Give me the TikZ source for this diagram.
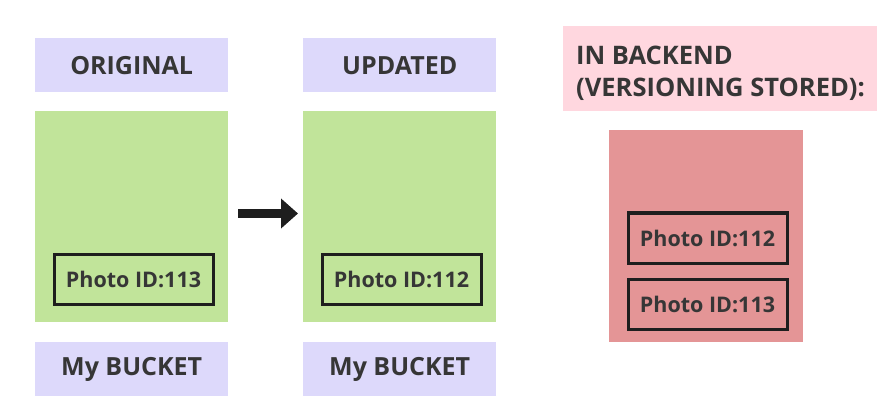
\documentclass[tikz,border=0pt]{standalone}
\usepackage{fontspec}
\setmainfont{Open Sans}
\usetikzlibrary{arrows.meta}
\definecolor{lav}{HTML}{DDD9FB}
\definecolor{grn}{HTML}{C1E49A}
\definecolor{pnk}{HTML}{FFD7DF}
\definecolor{redb}{HTML}{E49596}
\definecolor{txt}{HTML}{363636}
\definecolor{edge}{HTML}{1E1E1E}
\tikzset{
  lbl/.style={fill=lav, draw=none, minimum width=193pt, minimum height=54pt, inner sep=0pt, anchor=north west,
    text=txt, font=\fontsize{25}{28}\selectfont\bfseries},
  bucket/.style={fill=grn, draw=none, minimum width=193pt, minimum height=211pt, inner sep=0pt, anchor=north west},
  vault/.style={fill=redb, draw=none, minimum width=194pt, minimum height=212pt, inner sep=0pt, anchor=north west},
  photo/.style={draw=edge, line width=3pt, minimum width=159pt, minimum height=50pt, inner sep=0pt, anchor=north west,
    text=txt, font=\fontsize{21.5}{24}\selectfont\bfseries},
  pinkbox/.style={fill=pnk, draw=none, minimum width=314pt, minimum height=85pt, inner sep=0pt, anchor=north west},
  bigarrow/.style={draw=edge, line width=9pt, -{Triangle[length=17pt,width=29pt]}}
}
\begin{document}
\begin{tikzpicture}[x=1pt,y=-1pt]
\useasboundingbox (0,0) rectangle (883,406);
% left column
\node[lbl] (orig) at (35,38) {ORIGINAL};
\node[bucket] (g1) at (35,111) {};
\node[photo, fill=grn] (p1) at (52.5,252.5) {Photo ID:113};
\node[lbl] (mb1) at (35,342) {My BUCKET};
% middle column
\node[lbl] (upd) at (303,38) {UPDATED};
\node[bucket] (g2) at (303,111) {};
\node[photo, fill=grn] (p2) at (320.5,252.5) {Photo ID:112};
\node[lbl] (mb2) at (303,342) {My BUCKET};
% arrow
\coordinate (a1) at (238,213.5);
\coordinate (a2) at (298,213.5);
\draw[bigarrow] (a1) -- (a2);
% right column
\node[pinkbox] (pb) at (563,26) {};
\node[anchor=base west, inner sep=0pt, align=left, text=txt, font=\fontsize{25.5}{32}\selectfont\bfseries] (pt) at (576,97) {IN BACKEND\\(VERSIONING STORED):};
\node[vault] (rv) at (609,130) {};
\node[photo, fill=redb] (p3) at (626.5,211.5) {Photo ID:112};
\node[photo, fill=redb] (p4) at (626.5,277.5) {Photo ID:113};
\end{tikzpicture}
\end{document}
